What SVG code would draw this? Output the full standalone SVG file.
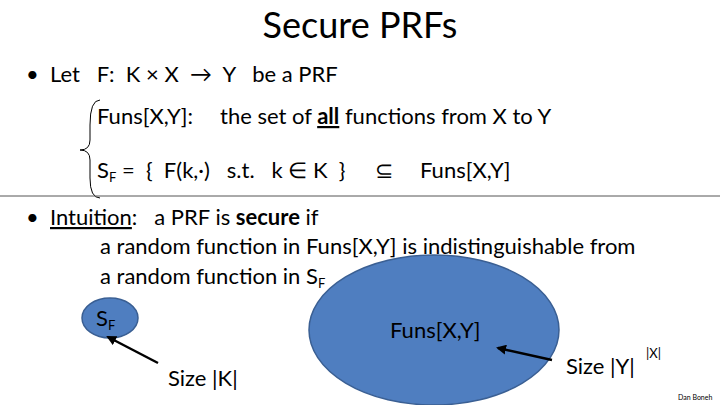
<svg xmlns="http://www.w3.org/2000/svg" width="720" height="405" viewBox="0 0 720 405">
<style>
text{font-family:Lato,"Open Sans","Liberation Sans",sans-serif;fill:#000}
.t{font-size:22px}
.e{fill:#4f7ec0;stroke:#3a5f93;stroke-width:1.5}
</style>
<defs><marker id="ah" markerWidth="10" markerHeight="10" refX="8" refY="5" orient="auto" markerUnits="userSpaceOnUse"><path d="M0,0 L10,5 L0,10 z" fill="#000"/></marker></defs>
<rect width="720" height="405" fill="#fff"/>
<text x="360" y="38" font-size="36" text-anchor="middle">Secure PRFs</text>
<text x="26" y="82" class="t">•</text>
<text x="50" y="82" class="t" xml:space="preserve">Let   F:  K × X  →  Y   be a PRF</text>
<path d="M100,100 Q90,100 90,125 L90,140 Q90,150 80,150 Q90,150 90,160 L90,178 Q90,198 100,198" fill="none" stroke="#000" stroke-width="1"/>
<text x="97" y="124" class="t">Funs[X,Y]:</text>
<text x="220" y="124" class="t">the set of <tspan font-weight="bold" text-decoration="underline">all</tspan> functions from X to Y</text>
<text x="97" y="178" class="t" xml:space="preserve">S<tspan font-size="13" dy="4">F</tspan><tspan dy="-4"> =  {  F(k,·)   s.t.   k ∈ K  }</tspan></text>
<text x="375" y="178" class="t">⊆</text>
<text x="420" y="178" class="t">Funs[X,Y]</text>
<line x1="0" y1="196" x2="720" y2="196" stroke="#555" stroke-width="1"/>
<text x="26" y="225" class="t">•</text>
<text x="50" y="225" class="t" xml:space="preserve"><tspan text-decoration="underline">Intuition</tspan>:   a PRF is <tspan font-weight="bold">secure</tspan> if</text>
<text x="100" y="254" class="t">a random function in Funs[X,Y] is indistinguishable from</text>
<text x="100" y="284" class="t">a random function in S<tspan font-size="13" dy="4">F</tspan></text>
<g id="sf"><ellipse class="e" cx="110" cy="318" rx="28" ry="20"/>
<text x="96" y="326" class="t">S<tspan font-size="13" dy="4">F</tspan></text></g>
<g id="funs"><ellipse class="e" cx="434" cy="330" rx="125" ry="75"/>
<text x="390" y="338" class="t">Funs[X,Y]</text></g>
<g id="connectors">
<line x1="158" y1="363" x2="108" y2="337" stroke="#000" stroke-width="2.5" marker-end="url(#ah)"/>
<line x1="552" y1="360" x2="498" y2="348" stroke="#000" stroke-width="2.5" marker-end="url(#ah)"/>
</g>
<text x="168" y="386" class="t">Size |K|</text>
<text x="566" y="374" class="t">Size |Y|</text>
<text x="646" y="358" font-size="13">|X|</text>
<text x="678" y="400" font-size="7">Dan Boneh</text>
</svg>
